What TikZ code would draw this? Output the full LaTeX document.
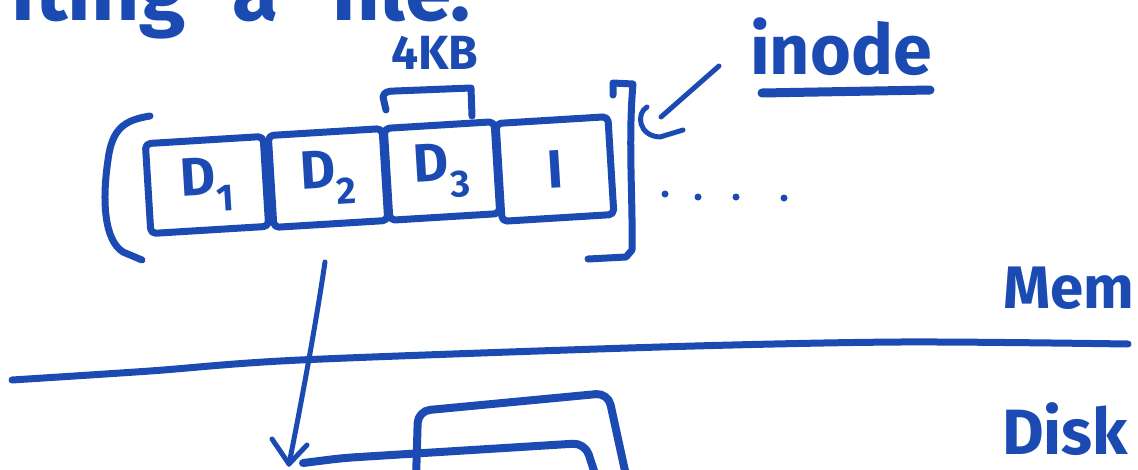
\documentclass[tikz,border=0pt]{standalone}
\usepackage{fontspec}
\setmainfont{Fira Sans}
\definecolor{ink}{RGB}{27,75,178}
\begin{document}
\begin{tikzpicture}[x=1pt,y=-1pt,
  pen/.style={draw=ink,line width=7pt,line cap=round,line join=round},
  thin pen/.style={draw=ink,line width=5pt,line cap=round,line join=round},
  cell/.style={pen,rounded corners=5pt,inner sep=0pt,rotate=3.5,text=ink,
    font=\fontsize{54}{54}\selectfont\bfseries},
  lbl/.style={text=ink,inner sep=0pt,font=\bfseries}]
\useasboundingbox (0,0) rectangle (1138,469);
\clip (0,0) rectangle (1138,469);

% title, cut off by the top edge
\node[lbl,anchor=base east,font=\fontsize{84}{84}\selectfont\bfseries] (t1) at (186,20) {Writing};
\node[lbl,anchor=base west,font=\fontsize{84}{84}\selectfont\bfseries] (t2) at (232,20) {a};
\node[lbl,anchor=base west,font=\fontsize{84}{84}\selectfont\bfseries] (t3) at (330,20) {file.};

% blocks in memory
\node[cell,minimum width=118pt,minimum height=90pt] (d1) at (207,185) {D\textsubscript{1}};
\node[cell,minimum width=114pt,minimum height=92pt] (d2) at (328,178) {D\textsubscript{2}};
\node[cell,minimum width=110pt,minimum height=92pt] (d3) at (442,171) {D\textsubscript{3}};
\node[cell,minimum width=112pt,minimum height=98pt] (ib) at (555,169) {I};

% brackets
\draw[pen] (150,116) .. controls (125,120) and (112,128) .. (108,160)
  .. controls (102,200) and (104,240) .. (123,252) -- (142,260);
\draw[pen] (613,95) -- (613,83) -- (633,84) .. controls (628,140) and (633,200) .. (632,250)
  -- (626,257) -- (588,259);
\draw[pen] (386,110) -- (383,97) .. controls (384,92) and (388,91) .. (395,91)
  -- (471,88) -- (472,116);

% 4KB label
\node[lbl,font=\fontsize{48}{48}\selectfont\bfseries] (kb) at (435,53) {4KB};

% inode label with underline and pointer
\node[lbl,font=\fontsize{70}{70}\selectfont\bfseries,anchor=base west] (inode) at (750,74) {inode};
\draw[line width=9pt,draw=ink,line cap=round] (762,93) -- (930,90);
\coordinate (hookfrom) at (719,66);
\coordinate (hookto) at (661,117);
\draw[thin pen] (hookfrom) -- (hookto);
\draw[thin pen] (647,107) .. controls (636,113) and (638,136) .. (660,137) -- (683,130);

% continuation dots
\foreach \x/\y [count=\i] in {665/194,698/197,736/197,784/198}
  \fill[ink] (\x,\y) circle (3.5pt);

% memory / disk separator
\draw[pen] plot[smooth] coordinates {(12,380) (150,371) (300,360) (660,347) (900,342) (1128,344)};
\node[lbl,font=\fontsize{60}{60}\selectfont\bfseries,anchor=base west] (mem) at (1003,308) {Mem};
\node[lbl,font=\fontsize{64}{64}\selectfont\bfseries,anchor=base west] (disk) at (1002,454) {Disk};

% write-back arrow
\coordinate (arrtop) at (325,262);
\coordinate (arrtip) at (289,464);
\draw[thin pen] (arrtop) .. controls (315,330) and (298,420) .. (arrtip);
\draw[thin pen] (arrtip) -- ++(-17,-25);
\draw[thin pen] (arrtip) -- ++(18,-19);

% disk blocks
\draw[pen,line width=8pt,rounded corners=12pt] (416,480) -- (418,411) -- (608,393) -- (627,480);
\draw[pen,line width=8pt,rounded corners=12pt] (303,463) -- (343,458) -- (585,443) -- (597,480);
\end{tikzpicture}
\end{document}
